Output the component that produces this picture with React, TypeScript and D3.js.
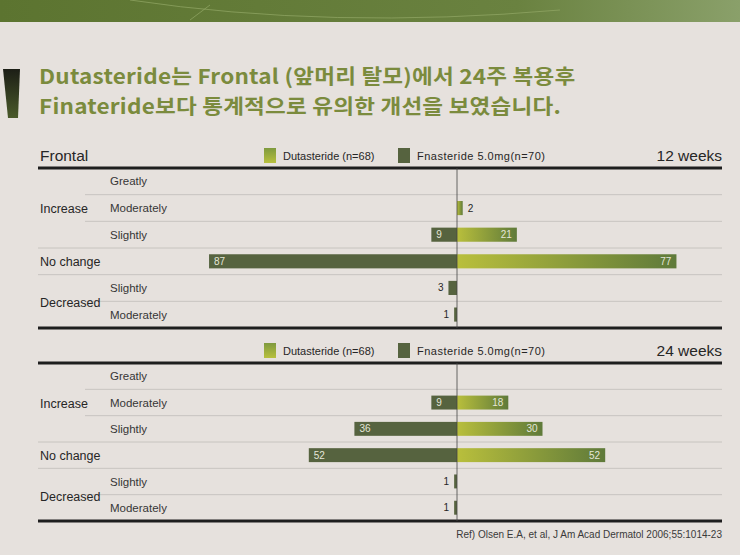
import React from "react";
import * as d3 from "d3";

const categories = ["Greatly", "Moderately", "Slightly", "No change", "Slightly", "Moderately"];
const groupLabels = ["Increase", "No change", "Decreased"];
const seriesNames = ["Dutasteride (n=68)", "Fnasteride 5.0mg(n=70)"];
const duta12 = [0, 2, 21, 77, 0, 0];
const fina12 = [0, 0, 9, 87, 3, 1];
const duta24 = [0, 18, 30, 52, 0, 0];
const fina24 = [0, 9, 36, 52, 1, 1];
const panelTitles = ["12 weeks", "24 weeks"];
const titleLines = [
  "Dutasteride는 Frontal (앞머리 탈모)에서 24주 복용후",
  "Finateride보다 통계적으로 유의한 개선을 보였습니다.",
];
const refText = "Ref) Olsen E.A, et al, J Am Acad Dermatol 2006;55:1014-23";

const W = 740, H = 555;
const CX = 457;
const LEFT = 38, RIGHT = 722;
const narrow = "'Liberation Sans Narrow', 'Arial Narrow', 'Liberation Sans', sans-serif";
const KR = "'Noto Sans CJK KR', 'Noto Sans', sans-serif";
const DARK = "#56633f";
const TXT = "#262626";

const x = d3.scaleLinear().domain([0, 100]).range([0, 285]);

function Panel({ top, bottom, duta, fina, title, header, idx }: any) {
  const y = d3.scaleBand<number>().domain(d3.range(categories.length)).range([top, bottom]).paddingInner(0.47).paddingOuter(0.24);
  const step = (bottom - top) / categories.length;
  const rowC = (i: number) => top + step * (i + 0.5);
  const sepFull = [3, 4];
  const lb = top - 8;
  return (
    <g>
      {header && (
        <text x={40} y={top - 7} fontFamily={narrow} fontSize={15.5} fill={TXT}>{header}</text>
      )}
      {/* legend */}
      <rect x={264} y={lb - 12} width={12} height={15} fill={`url(#gSw${idx})`} />
      <text x={283} y={lb} fontFamily={narrow} fontSize={11} fill={TXT}>{seriesNames[0]}</text>
      <rect x={398} y={lb - 12} width={12} height={15} fill={DARK} />
      <text x={417} y={lb} fontFamily={narrow} fontSize={11} fill={TXT} textLength={128}>{seriesNames[1]}</text>
      <text x={RIGHT} y={top - 7} textAnchor="end" fontFamily={narrow} fontSize={15.5} fill={TXT}>{title}</text>
      {/* separators */}
      {d3.range(1, categories.length).map((i) => (
        <line key={i} x1={sepFull.includes(i) ? LEFT : 85} x2={RIGHT} y1={top + step * i} y2={top + step * i}
          stroke="#bfbcb9" strokeWidth={0.8} />
      ))}
      <line x1={LEFT} x2={RIGHT} y1={top} y2={top} stroke="#1e1e1e" strokeWidth={3} />
      <line x1={LEFT} x2={RIGHT} y1={bottom} y2={bottom} stroke="#1e1e1e" strokeWidth={3} />
      {/* labels */}
      {categories.map((c, i) => i === 3 ? null : (
        <text key={i} x={110} y={rowC(i) + 4} fontFamily={narrow} fontSize={11.5} fill="#363636">{c}</text>
      ))}
      <text x={40} y={rowC(1) + 5} fontFamily={narrow} fontSize={12.5} fill={TXT}>{groupLabels[0]}</text>
      <text x={40} y={rowC(3) + 5} fontFamily={narrow} fontSize={12.5} fill={TXT}>{groupLabels[1]}</text>
      <text x={40} y={top + step * 5 + 6} fontFamily={narrow} fontSize={12.5} fill={TXT}>{groupLabels[2]}</text>
      {/* bars */}
      {fina.map((v: number, i: number) => v > 0 && (
        <g key={"f" + i}>
          <rect x={CX - x(v)} y={y(i)} width={x(v)} height={y.bandwidth()} fill={DARK} />
          {v >= 5 ? (
            <text x={CX - x(v) + 5} y={y(i)! + y.bandwidth() / 2 + 3.5} fontFamily={narrow} fontSize={10} fill="#e4e6d8">{v}</text>
          ) : (
            <text x={CX - x(v) - 5} y={y(i)! + y.bandwidth() / 2 + 3.5} textAnchor="end" fontFamily={narrow} fontSize={10} fill={TXT}>{v}</text>
          )}
        </g>
      ))}
      {duta.map((v: number, i: number) => v > 0 && (
        <g key={"d" + i}>
          <rect x={CX} y={y(i)} width={x(v)} height={y.bandwidth()} fill="url(#gBar)" />
          {v >= 5 ? (
            <text x={CX + x(v) - 5} y={y(i)! + y.bandwidth() / 2 + 3.5} textAnchor="end" fontFamily={narrow} fontSize={10} fill="#e4e6d8">{v}</text>
          ) : (
            <text x={CX + x(v) + 5} y={y(i)! + y.bandwidth() / 2 + 3.5} fontFamily={narrow} fontSize={10} fill={TXT}>{v}</text>
          )}
        </g>
      ))}
      <line x1={CX} x2={CX} y1={top} y2={bottom} stroke="#444" strokeWidth={0.8} />
    </g>
  );
}

export default function App() {
  return (
    <svg width={W} height={H} style={{ position: "absolute", left: 0, top: 0 }}>
      <defs>
        <linearGradient id="gBar" x1="0" x2="1" y1="0" y2="0" gradientUnits="objectBoundingBox">
          <stop offset="0" stopColor="#b9bf3c" />
          <stop offset="1" stopColor="#5f7a3a" />
        </linearGradient>
        <linearGradient id="gSw1" x1="0" x2="0" y1="0" y2="1">
          <stop offset="0" stopColor="#7f9a3e" />
          <stop offset="1" stopColor="#b8c03e" />
        </linearGradient>
        <linearGradient id="gSw2" x1="0" x2="0" y1="0" y2="1">
          <stop offset="0" stopColor="#7f9a3e" />
          <stop offset="1" stopColor="#b8c03e" />
        </linearGradient>
        <linearGradient id="gTop" x1="0" x2="1" y1="0" y2="0">
          <stop offset="0" stopColor="#5c7430" />
          <stop offset="0.7" stopColor="#6a8240" />
          <stop offset="1" stopColor="#8aa06a" />
        </linearGradient>
        <linearGradient id="gMark" x1="0" x2="0" y1="0" y2="1">
          <stop offset="0" stopColor="#1c1e16" />
          <stop offset="1" stopColor="#4a5a2a" />
        </linearGradient>
      </defs>
      <rect x={0} y={0} width={W} height={H} fill="#e6e1dd" />
      <rect x={0} y={0} width={W} height={22} fill="url(#gTop)" />
      <path d="M130,0 Q330,30 560,10 M190,20 L210,5" fill="none" stroke="#93a866" strokeWidth={1} opacity={0.7} />
      <path d="M3,69 L20,69 L18,118 L8,118 Z" fill="url(#gMark)" />
      {titleLines.map((t, i) => (
        <g key={i} transform={`translate(39, ${84 + i * 30}) scale(1.1, 1)`}>
          <text x={0} y={0} fontFamily={KR} fontWeight={700} fontSize={20.5} letterSpacing={0.2} fill="#7b8b3d">{t}</text>
        </g>
      ))}
      <Panel top={168} bottom={328} duta={duta12} fina={fina12} title={panelTitles[0]} header="Frontal" idx={1} />
      <Panel top={363} bottom={521} duta={duta24} fina={fina24} title={panelTitles[1]} header={null} idx={2} />
      <text x={RIGHT} y={538} textAnchor="end" fontFamily={narrow} fontSize={10} fill="#3a3a3a">{refText}</text>
    </svg>
  );
}
